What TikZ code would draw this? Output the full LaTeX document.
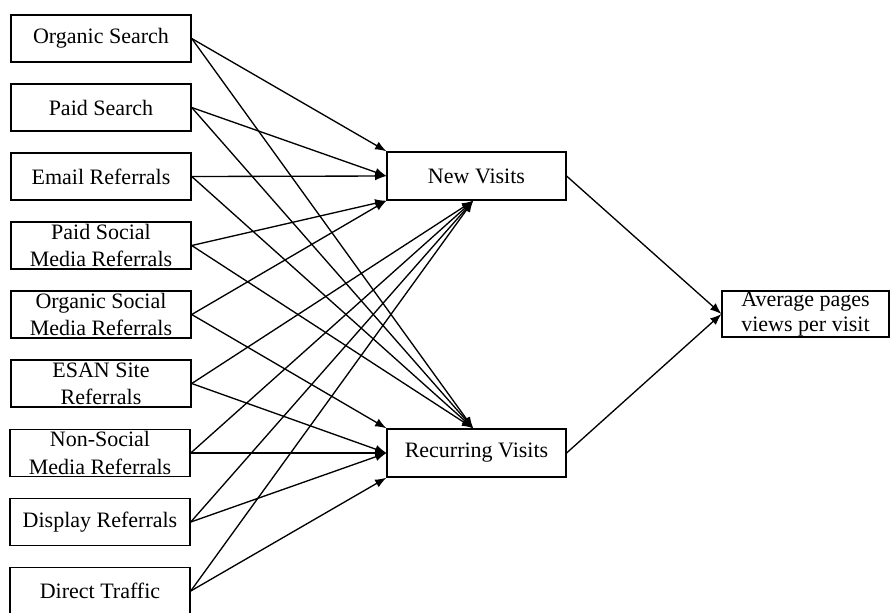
\documentclass[tikz,border=0pt]{standalone}
\usepackage{fontspec}
\setmainfont{Liberation Serif}
\usetikzlibrary{arrows.meta}

\begin{document}
\begin{tikzpicture}[>={Latex[length=8.5pt,width=6.5pt]},x=0.75pt,y=-0.75pt,
  src/.style={draw,line width=1.1pt,minimum width=135pt,minimum height=35pt,inner sep=0pt,align=center,font=\fontsize{16.5}{20.5}\selectfont},
  mid/.style={draw,line width=1.1pt,minimum width=134pt,minimum height=36pt,inner sep=0pt,align=center,font=\fontsize{16.5}{20.5}\selectfont},
  link/.style={->,line width=1pt}]
\useasboundingbox (0,0) rectangle (891,612);
% sources
\node[src] (os) at (101,38.5) {Organic Search};
\node[src] (ps) at (101,107.5) {Paid Search};
\node[src] (er) at (101,176.5) {Email Referrals};
\node[src] (psm) at (101,245.5) {Paid Social\\Media Referrals};
\node[src] (osm) at (101,314.5) {Organic Social\\Media Referrals};
\node[src] (esan) at (101,383.5) {ESAN Site\\Referrals};
\node[src] (nsm) at (100,453) {Non-Social\\Media Referrals};
\node[src] (dr) at (100,522) {Display Referrals};
\node[src] (dt) at (100,591) {Direct Traffic};
% visits
\node[mid] (nv) at (476.5,176) {New Visits};
\node[mid] (rv) at (476.5,453) {Recurring Visits};
\node[draw,line width=1.1pt,minimum width=125pt,minimum height=34.5pt,inner sep=0pt,align=center,font=\fontsize{16.5}{19}\selectfont] (av) at (805.5,314) {Average pages\\views per visit};
\coordinate (nvb) at ([xshift=-2.5pt]nv.south);
\coordinate (rvt) at ([xshift=-2.5pt]rv.north);
% to new visits
\draw[link] (os.east) -- (nv.north west);
\draw[link] (ps.east) -- (nv.west);
\draw[link] (er.east) -- (nv.west);
\draw[link] (psm.east) -- (nv.south west);
\draw[link] (osm.east) -- (nv.south west);
\draw[link] (esan.east) -- (nvb);
\draw[link] (nsm.east) -- (nvb);
\draw[link] (dr.east) -- (nvb);
\draw[link] (dt.east) -- (nvb);
% to recurring visits
\draw[link] (os.east) -- (rvt);
\draw[link] (ps.east) -- (rvt);
\draw[link] (er.east) -- (rvt);
\draw[link] (psm.east) -- (rvt);
\draw[link] (osm.east) -- (rv.north west);
\draw[link] (esan.east) -- (rv.west);
\draw[link] (nsm.east) -- (rv.west);
\draw[link] (dr.east) -- (rv.west);
\draw[link] (dt.east) -- (rv.south west);
% outcome
\draw[link] (nv.east) -- (av.west);
\draw[link] (rv.east) -- (av.west);
\end{tikzpicture}
\end{document}
